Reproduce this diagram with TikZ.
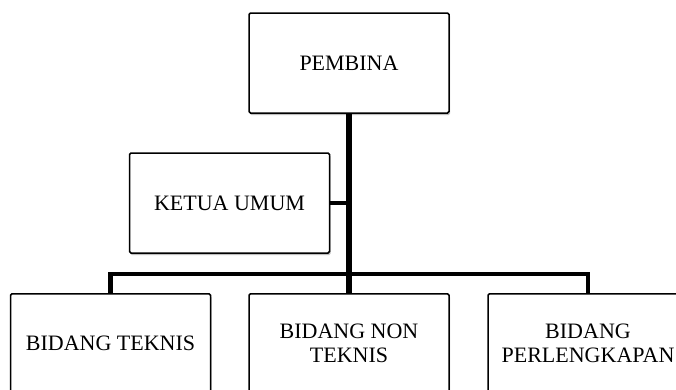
\documentclass[tikz,border=0pt]{standalone}
\usepackage{fontspec}
\setmainfont{Liberation Serif}
\usetikzlibrary{shadows}
\begin{document}
\begin{tikzpicture}[x=1pt,y=-1pt,
  orgbox/.style={draw=black, line width=1.5pt, fill=white, rounded corners=1.5pt,
    minimum width=200pt, minimum height=100pt, inner sep=0pt, align=center,
    font=\fontsize{22}{24}\selectfont,
    drop shadow={shadow xshift=1pt, shadow yshift=-2pt, opacity=0.25, fill=black}},
  trunk/.style={line width=6pt},
  bus/.style={line width=4.5pt}]
\useasboundingbox (0,0) rectangle (676,389);
\clip (0,0) rectangle (676,389);
\coordinate (busy) at (0,274);
\node[orgbox] (pembina) at (349,63) {PEMBINA};
\node[orgbox] (ketua) at (229.5,203) {KETUA UMUM};
\node[orgbox, anchor=north] (b1) at (110.5,293) {BIDANG TEKNIS};
\node[orgbox, anchor=north] (b2) at (349,293) {BIDANG NON\\TEKNIS};
\node[orgbox, anchor=north] (b3) at (588,293) {BIDANG\\PERLENGKAPAN};
\draw[trunk] (pembina.south) -- (b2.north);
\draw[bus] (ketua.east) -- (ketua.east -| pembina.south);
\draw[bus] (b1.north) -- (b1.north |- busy) -- (b3.north |- busy) -- (b3.north);
\end{tikzpicture}
\end{document}
